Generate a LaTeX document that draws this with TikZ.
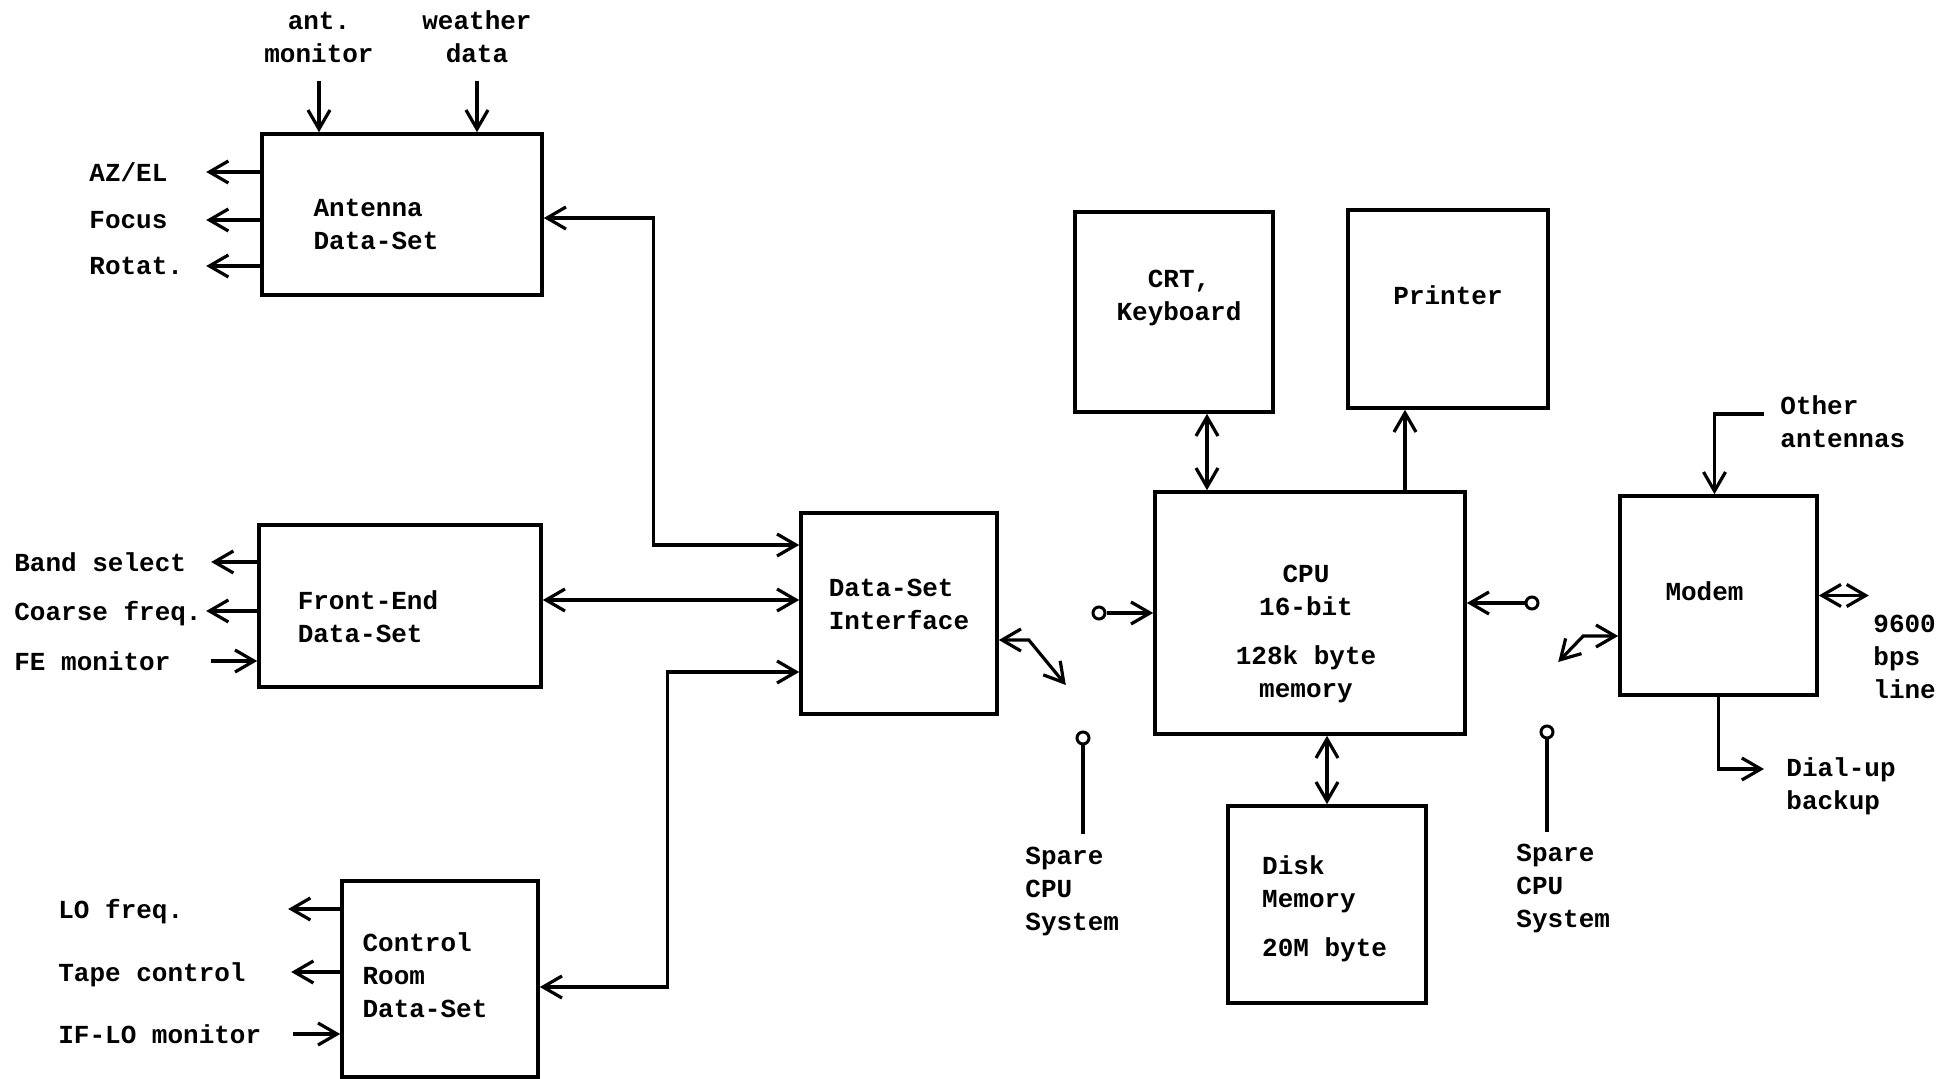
\documentclass[tikz,border=0pt]{standalone}
\usepackage{fontspec}
\setmonofont{Liberation Mono}
\usetikzlibrary{arrows.meta,positioning}

\begin{document}
\begin{tikzpicture}[
  x=0.5pt,y=-0.5pt,
  font=\ttfamily\bfseries\fontsize{13}{16.5}\selectfont,
  box/.style={draw,line width=1.8pt,inner sep=0pt},
  lbl/.style={inner sep=0pt,align=left},
  txt/.style={lbl,font=\ttfamily\bfseries\fontsize{13}{16.5}\selectfont},
  sig/.style={lbl,anchor=west,text depth=0pt},
  pindot/.style={circle,draw,line width=1.5pt,inner sep=0pt,minimum size=6pt},
  ln/.style={line width=1.6pt},
  a/.style ={-{Straight Barb[length=9.5pt,width=11pt]},line width=1.6pt},
  ra/.style={{Straight Barb[length=9.5pt,width=11pt]}-,line width=1.6pt},
  aa/.style={{Straight Barb[length=9.5pt,width=11pt]}-{Straight Barb[length=9.5pt,width=11pt]},line width=1.6pt},
]
\useasboundingbox (0,0) rectangle (1945,1079);

% data-sets on the left
\node[box,minimum width=140pt,minimum height=80.5pt,
  label={[txt,xshift=-13pt,yshift=-5pt]center:{Antenna\\Data-Set}}] (ant) at (402,214.5) {};
\node[box,minimum width=141pt,minimum height=81pt,
  label={[txt,xshift=-16pt,yshift=-5.5pt]center:{Front-End\\Data-Set}}] (fe) at (400,606) {};
\node[box,minimum width=98pt,minimum height=98pt,
  label={[txt,xshift=-7.5pt,yshift=2pt]center:{Control\\Room\\Data-Set}}] (cr) at (440,979) {};
\node[box,minimum width=98pt,minimum height=100.5pt,
  label={[txt,yshift=4.3pt]center:{Data-Set\\Interface}}] (dsi) at (899,613.5) {};

% computer
\node[box,minimum width=99pt,minimum height=100pt,
  label={[txt,align=center,xshift=2.5pt,yshift=6.8pt]center:{CRT,\\Keyboard}}] (crt) at (1174,312) {};
\node[box,minimum width=100pt,minimum height=99pt,
  label={[txt,yshift=6.8pt]center:Printer}] (prn) at (1448,309) {};
\node[box,minimum width=155pt,minimum height=121pt,
  label={[txt,align=center,xshift=-2pt,yshift=-10.5pt]center:{CPU\\16-bit\\[8pt]128k byte\\memory}}] (cpu) at (1310,613) {};
\node[box,minimum width=99pt,minimum height=98.5pt,
  label={[txt,xshift=-1.2pt,yshift=-2pt]center:{Disk\\Memory\\[8pt]20M byte}}] (disk) at (1327,904.5) {};
\node[box,minimum width=98.5pt,minimum height=99.5pt,
  label={[txt,xshift=-7pt,yshift=2pt]center:Modem}] (modem) at (1718.5,595.5) {};

% antenna signals
\node[lbl,align=center,anchor=south] (antmon) at (319,63) {ant.\\monitor};
\node[lbl,align=center,anchor=south] (wx) at (477,63) {weather\\data};
\draw[a] ([yshift=-9pt]antmon.south) -- (antmon.south |- ant.north);
\draw[a] ([yshift=-9pt]wx.south) -- (wx.south |- ant.north);
\node[sig] (azel) at (89,172) {AZ/EL};
\node[sig] (focus) at (89,220) {Focus};
\node[sig] (rotat) at (89,266) {Rotat.};
\foreach \s in {azel,focus,rotat}
  \draw[a] (ant.west |- \s) -- ++(-54,0);

% front-end signals
\node[sig] (band) at (14,562) {Band select};
\node[sig] (coarse) at (14,611) {Coarse freq.};
\node[sig] (femon) at (14,661) {FE monitor};
\draw[a] (fe.west |- band) -- ++(-46,0);
\draw[a] (fe.west |- coarse) -- ++(-51,0);
\draw[ra] (fe.west |- femon) -- ++(-46,0);

% control room signals
\node[sig] (lof) at (58,909) {LO freq.};
\node[sig] (tape) at (58,972) {Tape control};
\node[sig] (iflo) at (58,1034) {IF-LO monitor};
\draw[a] (cr.west |- lof) -- ++(-52,0);
\draw[a] (cr.west |- tape) -- ++(-49,0);
\draw[ra] (cr.west |- iflo) -- ++(-47,0);

% links to the interface
\draw[aa] ([yshift=-1.75pt]ant.east) -- ++(110,0) |- ([yshift=34.25pt]dsi.west);
\draw[aa] ([yshift=3pt]fe.east) -- ([yshift=3pt]fe.east -| dsi.west);
\draw[aa] ([yshift=-4pt]cr.east) -- ++(128,0) |- ([yshift=-29.25pt]dsi.west);
\draw[aa] ([yshift=-13.25pt]dsi.east) -- ++(30,0) -- ++(37,45);

% spare cpu switch, left
\node[pindot] (pa) at (1083,738) {};
\node[lbl,anchor=north west] (sparea) at (1025,847) {Spare\\CPU\\System};
\draw[ln] (pa.south) -- ([yshift=6.5pt]sparea.north -| pa.south);
\node[pindot] (pb) at (1099,613) {};
\draw[a] (pb.east) -- (pb.east -| cpu.west);

% spare cpu switch, right
\node[pindot] (pc) at (1532,603) {};
\draw[a] (pc.west) -- (pc.west -| cpu.east);
\node[pindot] (pd) at (1547,732) {};
\node[lbl,anchor=north west] (spareb) at (1516,844) {Spare\\CPU\\System};
\draw[ln] (pd.south) -- ([yshift=6pt]spareb.north -| pd.south);
\draw[aa] ([yshift=-20.25pt]modem.west) -- ++(-35,0) -- ++(-25,26);

% cpu peripherals
\draw[aa] ([xshift=16.5pt]crt.south) -- ([xshift=16.5pt]crt.south |- cpu.north);
\draw[a] ([xshift=-21.5pt]prn.south |- cpu.north) -- ([xshift=-21.5pt]prn.south);
\draw[aa] (cpu.south -| disk.north) -- (disk.north);

% modem lines
\node[lbl,anchor=north west] (oth) at (1780,395) {Other\\antennas};
\draw[a] ([shift={(-8pt,-9.5pt)}]oth.north west) -| ([xshift=-2pt]modem.north);
\node[lbl,anchor=north west] (bps) at (1873,615) {9600\\bps\\line};
\draw[aa] (modem.east) -- ++(50,0);
\node[lbl,anchor=north west] (dial) at (1786,757) {Dial-up\\backup};
\draw[a] (modem.south) |- ([shift={(-11pt,-6pt)}]dial.north west);
\end{tikzpicture}
\end{document}
